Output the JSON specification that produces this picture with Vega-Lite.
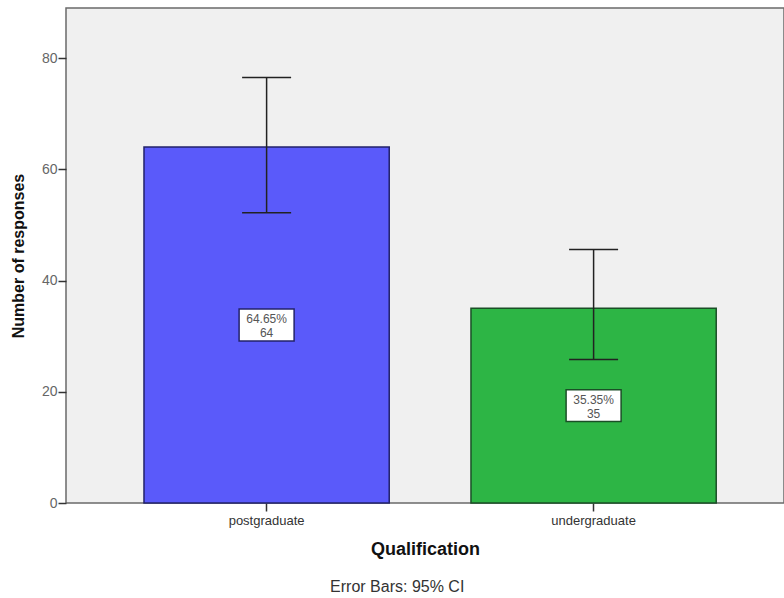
{
  "$schema": "https://vega.github.io/schema/vega-lite/v6.json",
  "width": 718,
  "height": 495,
  "autosize": "none",
  "padding": {"left": 66, "top": 8, "right": 0, "bottom": 95},
  "background": "#ffffff",
  "config": {
    "view": {"fill": "#f0f0f0", "stroke": "#6a6a6a", "strokeWidth": 1.5},
    "font": "Liberation Sans"
  },
  "title": {
    "text": "Error Bars: 95% CI",
    "orient": "bottom",
    "anchor": "middle",
    "frame": "bounds",
    "fontSize": 16,
    "fontWeight": "normal",
    "color": "#333333",
    "offset": 21
  },
  "data": {
    "values": [
      {"q": "postgraduate", "n": 64, "lo": 52.2, "hi": 76.5, "half": 32, "label": "64.65%\n64"},
      {"q": "undergraduate", "n": 35, "lo": 25.8, "hi": 45.6, "half": 17.5, "label": "35.35%\n35"}
    ]
  },
  "encoding": {
    "x": {
      "field": "q",
      "type": "nominal",
      "scale": {"paddingInner": 0.25, "paddingOuter": 0.2229, "align": 0.535},
      "axis": {
        "title": "Qualification",
        "titleFontSize": 18,
        "titleFontWeight": "bold",
        "titleColor": "#111111",
        "titlePadding": 13,
        "labelAngle": 0,
        "labelFontSize": 13,
        "labelColor": "#333333",
        "labelPadding": 3,
        "tickSize": 8,
        "tickColor": "#333333",
        "tickWidth": 1.5,
        "domain": false
      }
    }
  },
  "layer": [
    {
      "mark": {"type": "bar", "strokeWidth": 1.5},
      "encoding": {
        "y": {
          "field": "n",
          "type": "quantitative",
          "scale": {"domain": [0, 89], "nice": false},
          "axis": {
            "title": "Number of responses",
            "titleFontSize": 16,
            "titleFontWeight": "bold",
            "titleColor": "#111111",
            "titlePadding": 15,
            "values": [0, 20, 40, 60, 80],
            "labelFontSize": 14,
            "labelColor": "#666666",
            "labelPadding": 1,
            "tickSize": 8,
            "tickColor": "#333333",
            "tickWidth": 1.5,
            "grid": false,
            "domain": false
          }
        },
        "fill": {
          "field": "q",
          "type": "nominal",
          "scale": {"domain": ["postgraduate", "undergraduate"], "range": ["#5a5afa", "#2db545"]},
          "legend": null
        },
        "stroke": {
          "field": "q",
          "type": "nominal",
          "scale": {"domain": ["postgraduate", "undergraduate"], "range": ["#22226a", "#1a4f26"]},
          "legend": null
        }
      }
    },
    {
      "mark": {"type": "rule", "color": "#222222", "strokeWidth": 1.5},
      "encoding": {
        "y": {"field": "lo", "type": "quantitative"},
        "y2": {"field": "hi"}
      }
    },
    {
      "mark": {"type": "tick", "color": "#222222", "thickness": 1.5, "size": 49, "opacity": 1},
      "encoding": {"y": {"field": "hi", "type": "quantitative"}}
    },
    {
      "mark": {"type": "tick", "color": "#222222", "thickness": 1.5, "size": 49, "opacity": 1},
      "encoding": {"y": {"field": "lo", "type": "quantitative"}}
    },
    {
      "mark": {
        "type": "point",
        "shape": "M -1 -0.58 L 1 -0.58 L 1 0.58 L -1 0.58 Z",
        "size": 3025,
        "filled": false,
        "fill": "#ffffff",
        "fillOpacity": 1,
        "strokeWidth": 1.5,
        "opacity": 1
      },
      "encoding": {
        "y": {"field": "half", "type": "quantitative"},
        "stroke": {"field": "q", "type": "nominal", "legend": null}
      }
    },
    {
      "mark": {"type": "text", "lineBreak": "\n", "baseline": "middle", "fontSize": 12, "color": "#555555", "lineHeight": 14, "dy": -6},
      "encoding": {
        "y": {"field": "half", "type": "quantitative"},
        "text": {"field": "label"}
      }
    }
  ]
}
